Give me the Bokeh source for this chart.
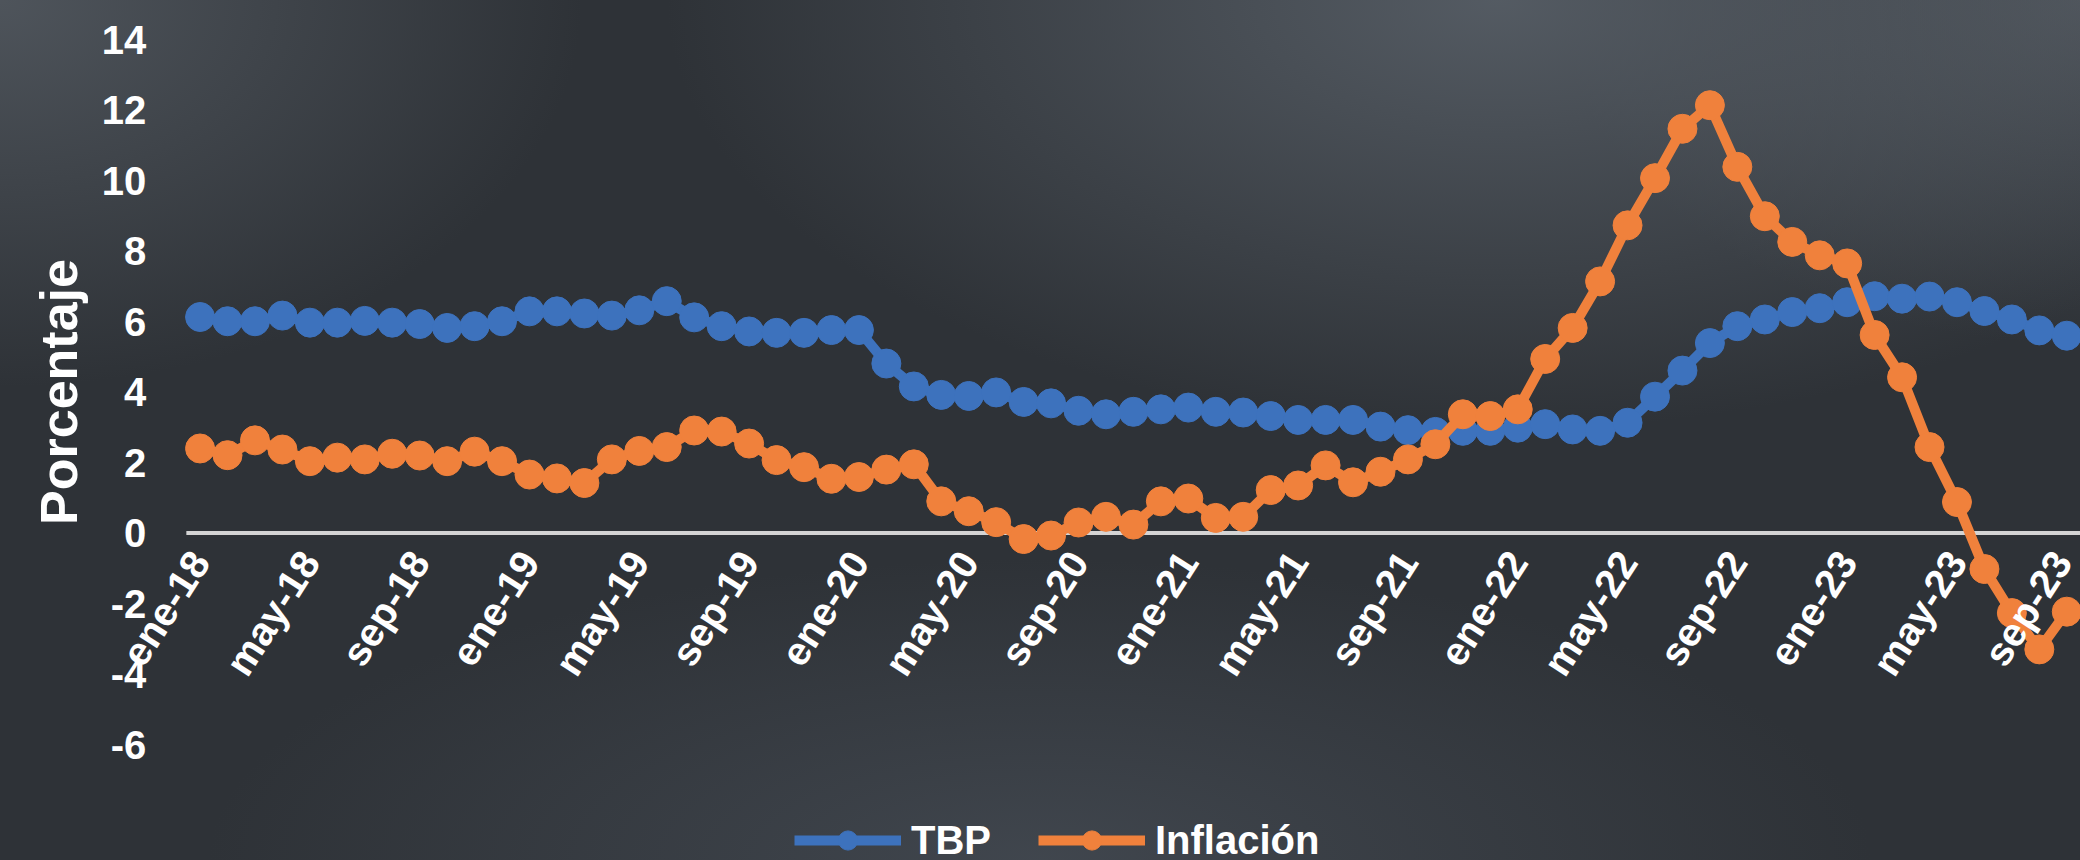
from bokeh.plotting import figure
from bokeh.models import Range1d, FixedTicker, Legend, LegendItem
from bokeh.embed import file_html
from bokeh.resources import INLINE

# ---- data -------------------------------------------------------------
months = ["ene", "feb", "mar", "abr", "may", "jun", "jul", "ago", "sep", "oct", "nov", "dic"]
years = ["18", "19", "20", "21", "22", "23"]

tbp = [6.13, 6.01, 6.01, 6.17, 5.97, 5.97, 6.02, 5.97, 5.93, 5.82, 5.87, 6.01,
       6.29, 6.29, 6.23, 6.17, 6.32, 6.58, 6.12, 5.87, 5.72, 5.68, 5.68, 5.76,
       5.76, 4.81, 4.16, 3.92, 3.89, 3.99, 3.72, 3.68, 3.47, 3.37, 3.44, 3.51,
       3.56, 3.44, 3.42, 3.32, 3.21, 3.21, 3.21, 3.02, 2.92, 2.87, 2.90, 2.90,
       2.99, 3.09, 2.94, 2.90, 3.13, 3.87, 4.61, 5.39, 5.87, 6.06, 6.27, 6.38,
       6.55, 6.72, 6.65, 6.71, 6.55, 6.30, 6.06, 5.75, 5.60]

inflacion = [2.40, 2.21, 2.63, 2.37, 2.04, 2.14, 2.09, 2.25, 2.20, 2.04, 2.31, 2.04,
             1.66, 1.55, 1.42, 2.09, 2.33, 2.44, 2.91, 2.88, 2.54, 2.07, 1.87, 1.54,
             1.59, 1.80, 1.95, 0.90, 0.62, 0.31, -0.17, -0.07, 0.30, 0.46, 0.24, 0.90,
             0.98, 0.43, 0.46, 1.22, 1.35, 1.92, 1.44, 1.74, 2.09, 2.52, 3.37, 3.32,
             3.51, 4.94, 5.82, 7.14, 8.73, 10.07, 11.47, 12.14, 10.39, 8.99, 8.26, 7.88,
             7.65, 5.62, 4.42, 2.44, 0.88, -1.02, -2.27, -3.30, -2.23]

periods = [f"{m}-{y}" for y in years for m in months][:len(tbp)]
y_ticks = [-6, -4, -2, 0, 2, 4, 6, 8, 10, 12, 14]

x = list(range(len(periods)))
label_every = 4
x_ticks = x[::label_every]
x_lo, x_hi = -0.5, len(x) - 0.5

# ---- style ------------------------------------------------------------
BLUE = "#3D72BD"
ORANGE = "#F0813C"
FONT = "Liberation Sans"

p = figure(width=2080, height=860, output_backend="svg", toolbar_location=None,
           x_range=Range1d(-7.27, x_hi), y_range=Range1d(-9.29, 15.11),
           min_border=0)

p.styles = {
    "background": (
        "radial-gradient(ellipse 40% 50% at 72% 0%, rgba(86,93,101,0.95) 0%, rgba(86,93,101,0) 100%),"
        "radial-gradient(ellipse 28% 45% at 0% 0%, rgba(80,86,93,0.95) 0%, rgba(80,86,93,0) 100%),"
        "radial-gradient(ellipse 25% 40% at 100% 0%, rgba(80,86,93,0.9) 0%, rgba(80,86,93,0) 100%),"
        "radial-gradient(ellipse 40% 35% at 50% 100%, rgba(66,72,80,0.9) 0%, rgba(66,72,80,0) 100%),"
        "#2E3237"
    ),
}
p.background_fill_alpha = 0
p.border_fill_alpha = 0
p.outline_line_color = None
p.grid.visible = False

# zero line (drawn first, under the series)
p.segment(x0=[x_lo], y0=[0], x1=[x_hi], y1=[0], line_color="#D4D4D4", line_width=4)

l1 = p.line(x, tbp, line_color=BLUE, line_width=10)
s1 = p.scatter(x, tbp, size=29, fill_color=BLUE, line_color=BLUE)
l2 = p.line(x, inflacion, line_color=ORANGE, line_width=10)
s2 = p.scatter(x, inflacion, size=29, fill_color=ORANGE, line_color=ORANGE)

# x axis crossing at zero
xa = p.xaxis[0]
xa.fixed_location = 0
xa.bounds = (x_lo, x_hi)
xa.ticker = FixedTicker(ticks=x_ticks)
xa.major_label_overrides = {i: periods[i] for i in x_ticks}
xa.major_label_orientation = 1.0
xa.axis_line_color = None
xa.major_tick_line_color = None
xa.minor_tick_line_color = None
xa.major_label_standoff = 16
xa.major_label_text_color = "white"
xa.major_label_text_font = FONT
xa.major_label_text_font_size = "40px"
xa.major_label_text_font_style = "bold"

# y axis at the left edge of the data
ya = p.yaxis[0]
ya.fixed_location = x_lo
ya.bounds = (y_ticks[0], y_ticks[-1])
ya.ticker = FixedTicker(ticks=y_ticks)
ya.major_label_overrides = {v: str(v) for v in y_ticks}
ya.axis_line_color = None
ya.major_tick_line_color = None
ya.minor_tick_line_color = None
ya.major_label_standoff = 34
ya.major_label_text_color = "white"
ya.major_label_text_font = FONT
ya.major_label_text_font_size = "40px"
ya.major_label_text_font_style = "bold"
ya.axis_label = "Porcentaje"
ya.axis_label_text_color = "white"
ya.axis_label_text_font = FONT
ya.axis_label_text_font_size = "52px"
ya.axis_label_text_font_style = "bold"
ya.axis_label_standoff = 11

legend = Legend(items=[LegendItem(label="TBP", renderers=[l1, s1]),
                       LegendItem(label="Inflación", renderers=[l2, s2])],
                orientation="horizontal", location=(794, -4),
                background_fill_alpha=0, border_line_color=None,
                padding=0, margin=0, spacing=47,
                glyph_width=107, glyph_height=48, label_height=48,
                label_standoff=10, label_text_color="white",
                label_text_font=FONT, label_text_font_size="40px",
                label_text_font_style="bold")
p.add_layout(legend)

open("out.html", "w").write(file_html(p, INLINE, title="TBP e Inflación"))
